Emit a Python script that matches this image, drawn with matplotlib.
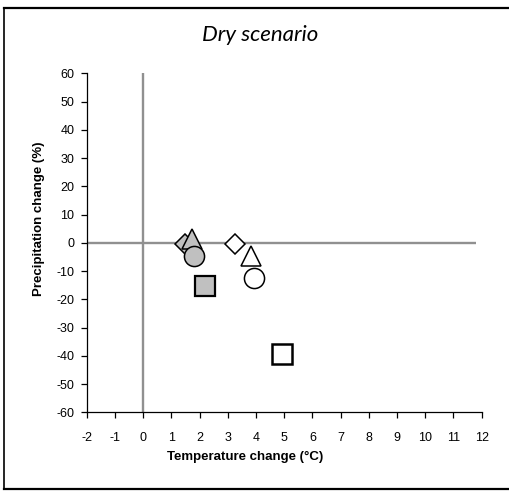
import matplotlib.pyplot as plt
from matplotlib.lines import Line2D

# series (grey = filled markers, white = open markers)
markers = ['D', '^', 'o', 's']
temp_grey = [1.50, 1.73, 1.81, 2.19]
prec_grey = [-0.5, 1.3, -4.8, -15.3]
temp_open = [3.26, 3.84, 3.94, 4.92]
prec_open = [-0.6, -4.5, -12.6, -39.2]

x_ticks = list(range(-2, 13))
y_ticks = list(range(-60, 61, 10))

sizes = {'D': 10, '^': 15, 'o': 14.5, 's': 14.5}

plt.rcParams['font.family'] = ['Liberation Sans', 'DejaVu Sans']
plt.rcParams['axes.unicode_minus'] = False

fig = plt.figure(figsize=(5.10, 4.93), dpi=100)
ax = fig.add_axes([0.170, 0.1637, 0.7745, 0.6876])
ax.set_xlim(-2, 12)
ax.set_ylim(-60, 60)

# grey zero lines
ax.axvline(0, color='#909090', lw=1.7, zorder=1)
ax.plot([-2, 11.8], [0, 0], color='#909090', lw=1.7, zorder=1, solid_capstyle='butt')

for m, x, y in zip(markers, temp_grey, prec_grey):
    ew = 1.6 if m == 's' else 1.1
    ax.plot([x], [y], marker=m, ms=sizes[m], mfc='#c0c0c0', mec='black',
            mew=ew, ls='none', zorder=3, clip_on=False)
for m, x, y in zip(markers, temp_open, prec_open):
    ew = 1.8 if m == 's' else 1.1
    ax.plot([x], [y], marker=m, ms=sizes[m], mfc='white', mec='black',
            mew=ew, ls='none', zorder=3, clip_on=False)

ax.set_xticks(x_ticks)
ax.set_yticks(y_ticks)
ax.tick_params(direction='out', length=4, width=0.9, labelsize=9)
ax.tick_params(axis='x', pad=10)
ax.tick_params(axis='y', pad=5)
for s in ['top', 'right']:
    ax.spines[s].set_visible(False)
for s in ['left', 'bottom']:
    ax.spines[s].set_linewidth(0.9)

ax.set_xlabel('Temperature change (°C)', fontsize=9.5, fontweight='bold')
ax.set_ylabel('Precipitation change (%)', fontsize=9.5, fontweight='bold')
ax.xaxis.set_label_coords(0.40, -0.115)
ax.yaxis.set_label_coords(-0.105, 0.57)

fig.text(0.51, 0.929, 'Dry scenario', fontsize=16, style='italic',
         family=['Lato', 'DejaVu Sans'], ha='center', va='center')

# border lines of the sheet frame
fig.add_artist(Line2D([4.5 / 510, 1], [1 - 7.5 / 493, 1 - 7.5 / 493],
                      transform=fig.transFigure, color='black', lw=1.6))
fig.add_artist(Line2D([4.5 / 510, 1], [1 - 489 / 493, 1 - 489 / 493],
                      transform=fig.transFigure, color='black', lw=1.6))
fig.add_artist(Line2D([4.5 / 510, 4.5 / 510], [1 - 7.5 / 493, 1 - 489 / 493],
                      transform=fig.transFigure, color='black', lw=1.2))

fig.savefig('out.png', dpi=100)
